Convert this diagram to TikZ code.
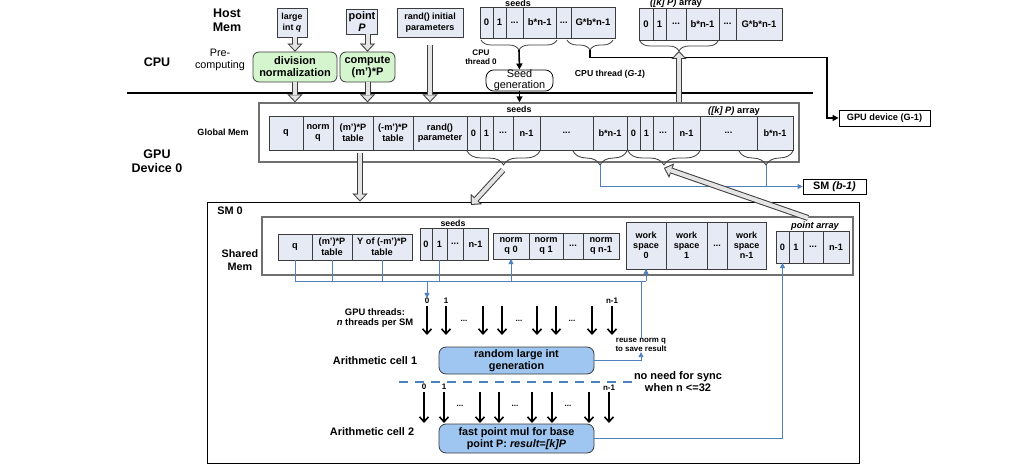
\documentclass[tikz,border=0pt]{standalone}
\usepackage{fontspec}
\setmainfont{Liberation Sans}
\usetikzlibrary{arrows.meta,positioning,decorations.pathreplacing}
\definecolor{Line}{HTML}{3C3C3C}
\definecolor{Frame}{HTML}{707070}
\definecolor{Cell}{HTML}{E6EAF4}
\definecolor{Green}{HTML}{D4F5CE}
\definecolor{Blue}{HTML}{9EC6F0}
\definecolor{Wire}{HTML}{4F81BD}
\definecolor{Hollow}{HTML}{E4E4E4}

\begin{document}
\begin{tikzpicture}[x=1pt,y=-1pt,
 hdr/.style={font=\fontsize{12.5}{14}\selectfont\bfseries,align=center,inner sep=0pt},
 lbl/.style={font=\fontsize{9}{10.5}\selectfont\bfseries,align=center,inner sep=0pt},
 rg/.style={font=\fontsize{10.8}{12}\selectfont,align=center,inner sep=0pt},
 tl/.style={font=\fontsize{8}{9}\selectfont\bfseries,inner sep=0pt},
 cell/.style={draw=Line,fill=Cell,line width=0.8pt,inner sep=0pt,outer sep=0pt,align=center,font=\fontsize{9.2}{10.6}\selectfont\bfseries},
 tc/.style={cell,minimum height=31pt,font=\fontsize{9.5}{11}\selectfont\bfseries},
 gc/.style={cell,minimum height=34pt},
 sc/.style={cell,minimum height=26pt},
 qc/.style={cell,minimum height=32pt},
 wc/.style={cell,minimum height=47pt,font=\fontsize{9}{9.8}\selectfont\bfseries},
 grn/.style={draw=Line,fill=Green,line width=0.8pt,rounded corners=6pt,inner sep=0pt,align=center,font=\fontsize{11}{12}\selectfont\bfseries},
 alu/.style={draw=Line,fill=Blue,line width=0.8pt,rounded corners=7pt,inner sep=0pt,align=center,font=\fontsize{10.8}{12.5}\selectfont\bfseries},
 frame/.style={draw=Frame,line width=1.4pt,fill=white,inner sep=0pt},
 tag/.style={draw=black,fill=white,line width=0.8pt,inner sep=0pt,align=center,font=\fontsize{9.2}{11}\selectfont\bfseries},
 br/.style={decorate,decoration={brace,mirror,amplitude=#1},draw=Line,line width=0.8pt},
 br/.default=10pt,
 blk/.style={draw=black,line width=1.6pt,-{Triangle[length=6pt,width=6pt]}},
 thr/.style={draw=black,line width=1.6pt,-{Straight Barb[length=5pt,width=9pt]}},
 wire/.style={draw=Wire,line width=0.8pt},
 wa/.style={wire,-{Triangle[length=5pt,width=5pt]}},
 hollow/.style={draw=Line,line width=6pt,-{Triangle[length=8pt,width=15pt,line width=0.01pt]},
   postaction={draw=Hollow,line width=4pt,shorten >=1.5pt,-{Triangle[length=5.5pt,width=10.4pt,line width=0.01pt]}}}
]
\useasboundingbox (0,0) rectangle (1014,468);
% host memory and cpu
\node[hdr] (host) at (227,20) {Host\\Mem};
\node[cell,minimum width=30pt,minimum height=29pt,font=\fontsize{8.8}{10.5}\selectfont\bfseries] (intq) at (292,22.5) {large\\int \textit{q}};
\node[cell,minimum width=31pt,minimum height=25pt,font=\fontsize{10.9}{12}\selectfont\bfseries] (ptP) at (362,21.5) {point\\\textit{P}};
\node[cell,minimum width=66pt,minimum height=29pt,font=\fontsize{9}{10.5}\selectfont\bfseries] (rinit) at (430,22.5) {rand() initial\\parameters};
\node[hdr] (cpu) at (157,62) {CPU};
\node[rg] (pre) at (220,60) {Pre-\\computing};
\node[grn,minimum width=84pt,minimum height=30pt] (div) at (295,67) {division\\normalization};
\node[grn,minimum width=55pt,minimum height=30pt] (comp) at (367.5,67) {compute\\(m')*P};

% seeds made on the cpu
\node[lbl] (tseeds) at (518,3) {seeds};
\node[tc,minimum width=13pt] (t0) at (486.5,22.5) {0};
\node[tc,minimum width=13pt,right=0pt of t0] (t1) {1};
\node[tc,minimum width=17pt,right=0pt of t1] (td) {...};
\node[tc,minimum width=33.5pt,right=0pt of td] (tbn) {b*n-1};
\node[tc,minimum width=14.5pt,right=0pt of tbn] (td2) {...};
\node[tc,minimum width=44pt,right=0pt of td2] (tgbn) {G*b*n-1};
\draw[br] (481,40) -- (557,40); \coordinate (tb1) at (519,50);
\draw[br] (567,40) -- (613,40); \coordinate (tb2) at (590,50);
\node[lbl,font=\fontsize{8.1}{9}\selectfont\bfseries] (cth0) at (481,57.5) {CPU\\thread 0};
\node[draw=black,fill=white,line width=0.8pt,rounded corners=8pt,rg,font=\fontsize{10.9}{11}\selectfont,minimum width=67pt,minimum height=21pt] (seedgen) at (519.5,80.5) {Seed\\generation};
\node[lbl,font=\fontsize{8.7}{10}\selectfont\bfseries] (cthg) at (610,74) {CPU thread (\textit{G-1})};

% point array on the cpu
\node[lbl,font=\fontsize{9.3}{10}\selectfont\bfseries] (tkp) at (676,3) {\textit{([k] P)} array};
\node[tc,minimum width=14pt,minimum height=32pt] (k0) at (646,24) {0};
\node[tc,minimum width=13pt,minimum height=32pt,right=0pt of k0] (k1) {1};
\node[tc,minimum width=20pt,minimum height=32pt,right=0pt of k1] (kd) {...};
\node[tc,minimum width=33pt,minimum height=32pt,right=0pt of kd] (kbn) {b*n-1};
\node[tc,minimum width=17pt,minimum height=32pt,right=0pt of kbn] (kd2) {...};
\node[tc,minimum width=46pt,minimum height=32pt,right=0pt of kd2] (kgbn) {G*b*n-1};
\draw[br] (640,41) -- (718,41); \coordinate (tk) at (679,51);
\node[tag,minimum width=91pt,minimum height=16pt] (gpug) at (884.5,118) {GPU device (G-1)};
\coordinate (turn) at (827,57.5);

\draw[line width=2pt] (127,93) -- (813,93);

% gpu global memory
\node[hdr] (gpu) at (157,161.5) {GPU\\Device 0};
\node[frame,minimum width=540pt,minimum height=59pt] (gmem) at (529,132.5) {};
\node[lbl] (gml) at (223,132) {Global Mem};
\node[gc,minimum width=34pt] (gq) at (286,133) {q};
\node[gc,minimum width=30pt,right=0pt of gq] (gnq) {norm\\q};
\node[gc,minimum width=40pt,right=0pt of gnq] (gmp) {(m')*P\\table};
\node[gc,minimum width=40pt,right=0pt of gmp] (gmn) {(-m')*P\\table};
\node[gc,minimum width=54pt,right=0pt of gmn] (grand) {rand()\\parameter};
\node[gc,minimum width=13pt,right=0pt of grand] (gs0) {0};
\node[gc,minimum width=13pt,right=0pt of gs0] (gs1) {1};
\node[gc,minimum width=20pt,right=0pt of gs1] (gsd) {...};
\node[gc,minimum width=27pt,right=0pt of gsd] (gsn) {n-1};
\node[gc,minimum width=53pt,right=0pt of gsn] (gsd2) {...};
\node[gc,minimum width=34pt,right=0pt of gsd2] (gsbn) {b*n-1};
\node[gc,minimum width=13pt,right=0pt of gsbn] (gk0) {0};
\node[gc,minimum width=13pt,right=0pt of gk0] (gk1) {1};
\node[gc,minimum width=20pt,right=0pt of gk1] (gkd) {...};
\node[gc,minimum width=27pt,right=0pt of gkd] (gkn) {n-1};
\node[gc,minimum width=57pt,right=0pt of gkn] (gkd2) {...};
\node[gc,minimum width=36pt,right=0pt of gkd2] (gkbn) {b*n-1};
\node[lbl,font=\fontsize{8.8}{10}\selectfont\bfseries] (gseeds) at (519,109) {seeds};
\node[lbl,font=\fontsize{9.3}{10}\selectfont\bfseries] (gkp) at (734,111) {\textit{([k] P)} array};
\draw[br=14pt] (467,151) -- (540,151); \coordinate (gb1) at (503.5,165);
\draw[br=14pt] (573,151) -- (627,151); \coordinate (gb2) at (600,165);
\draw[br=14pt] (628,151) -- (700,151); \coordinate (gb3) at (664,165);
\draw[br=14pt] (739,151) -- (793,151); \coordinate (gb4) at (766,165);
\node[tag,font=\fontsize{10.8}{12}\selectfont\bfseries,minimum width=63pt,minimum height=15pt] (smb) at (834.5,186.5) {SM \textit{(b-1)}};

% sm 0 and shared memory
\node[draw=black,line width=1pt,minimum width=652pt,minimum height=261pt,inner sep=0pt] (sm0) at (533,332.5) {};
\node[hdr,font=\fontsize{10.9}{12}\selectfont\bfseries] (sm0l) at (230,211) {SM 0};
\node[frame,minimum width=591pt,minimum height=58pt] (shm) at (557.5,246) {};
\node[hdr,font=\fontsize{10.8}{12.5}\selectfont\bfseries] (shml) at (240,260) {Shared\\Mem};
\node[sc,minimum width=34pt] (sq) at (295,247) {q};
\node[sc,minimum width=40pt,right=0pt of sq] (smp) {(m')*P\\table};
\node[sc,minimum width=60pt,right=0pt of smp] (smn) {Y of (-m')*P\\table};
\node[lbl,font=\fontsize{8.8}{10}\selectfont\bfseries] (sseeds) at (453,223) {seeds};
\node[qc,minimum width=12pt] (ss0) at (426,244) {0};
\node[qc,minimum width=15pt,right=0pt of ss0] (ss1) {1};
\node[qc,minimum width=16pt,right=0pt of ss1] (ssd) {...};
\node[qc,minimum width=25pt,right=0pt of ssd] (ssn) {n-1};
\node[sc,minimum width=36pt] (nq0) at (511,246) {norm\\q 0};
\node[sc,minimum width=34pt,right=0pt of nq0] (nq1) {norm\\q 1};
\node[sc,minimum width=20pt,right=0pt of nq1] (nqd) {...};
\node[sc,minimum width=36pt,right=0pt of nqd] (nqn) {norm\\q n-1};
\node[wc,minimum width=40pt] (ws0) at (646,245.5) {work\\space\\0};
\node[wc,minimum width=41pt,right=0pt of ws0] (ws1) {work\\space\\1};
\node[wc,minimum width=20pt,right=0pt of ws1] (wsd) {...};
\node[wc,minimum width=39pt,right=0pt of wsd] (wsn) {work\\space\\n-1};
\node[lbl,font=\fontsize{9.2}{10}\selectfont\bfseries\itshape] (pal) at (815,226) {point array};
\node[qc,minimum width=13pt] (pa0) at (782.5,247) {0};
\node[qc,minimum width=14pt,right=0pt of pa0] (pa1) {1};
\node[qc,minimum width=20pt,right=0pt of pa1] (pad) {...};
\node[qc,minimum width=26pt,right=0pt of pad] (pan) {n-1};

% threads and arithmetic cells
\node[lbl,font=\fontsize{9.4}{10.5}\selectfont\bfseries] (gthr) at (375,318) {GPU threads:\\\textit{n} threads per SM};
\node[tl] (th0) at (427,301) {0}; \node[tl] (th1) at (446,301) {1}; \node[tl] (thn) at (612,301) {n-1};
\node[tl] at (464,321) {...}; \node[tl] at (519,321) {...}; \node[tl] at (572,321) {...};
\node[hdr,font=\fontsize{10.9}{12}\selectfont\bfseries] (ac1) at (375,361) {Arithmetic cell 1};
\node[alu,minimum width=155pt,minimum height=27pt] (rnd) at (516.5,360.5) {random large int\\generation};
\node[lbl,font=\fontsize{7.9}{9.5}\selectfont\bfseries] (reuse) at (641,345) {reuse norm q\\to save result};
\node[lbl,font=\fontsize{11}{11.5}\selectfont\bfseries] (sync) at (678,381.5) {no need for sync\\when n <=32};
\node[tl] (tr0) at (424,387) {0}; \node[tl] (tr1) at (444,387) {1}; \node[tl] (trn) at (609,388) {n-1};
\node[tl] at (460,406) {...}; \node[tl] at (515,406) {...}; \node[tl] at (568,406) {...};
\node[hdr,font=\fontsize{10.9}{12}\selectfont\bfseries] (ac2) at (372,432) {Arithmetic cell 2};
\node[alu,minimum width=155pt,minimum height=29pt] (fpm) at (516.5,438.5) {fast point mul for base\\point P: \textit{result=[k]P}};
\draw[draw=Wire,line width=1.6pt,dash pattern=on 9pt off 7pt] (399,382) -- (632,382);

\draw[thr] (427,306) -- (427,335); \draw[thr] (446,306) -- (446,335); \draw[thr] (483,306) -- (483,335); \draw[thr] (502,306) -- (502,335);
\draw[thr] (537,306) -- (537,335); \draw[thr] (556,306) -- (556,335); \draw[thr] (592,306) -- (592,335); \draw[thr] (612,306) -- (612,335);
\draw[thr] (424,392) -- (424,423); \draw[thr] (444,392) -- (444,423); \draw[thr] (480,392) -- (480,423); \draw[thr] (499,392) -- (499,423);
\draw[thr] (532,392) -- (532,423); \draw[thr] (552,392) -- (552,423); \draw[thr] (589,392) -- (589,423); \draw[thr] (609,392) -- (609,423);

% connectors
\coordinate (bus) at (646,281);
\draw[wire] (sq.south) |- (bus); \draw[wire] (smp.south) -- (smp.south |- bus); \draw[wire] (smn.south) -- (smn.south |- bus); \draw[wire] (ss1.south) -- (ss1.south |- bus);
\draw[wa] (nq0.south |- bus) -- (nq0.south); \draw[wa] (bus) -- (ws0.south); \draw[wa] (th0.north |- bus) -- (th0.north);
\draw[wa] (rnd.east) -| (reuse.south); \draw[wire] (reuse.north) -- (reuse.north |- bus);
\draw[wa] (fpm.east) -| (pa0.south);
\draw[wa] (gb2) |- (smb.west); \draw[wire] (gb4) -- (gb4 |- smb.west);
\draw[blk] (tb1) -- (seedgen.north); \draw[blk] (seedgen.south) -- (seedgen.south |- gmem.north);
\draw[blk] (tb2) |- (turn) |- (gpug.west);

\coordinate (gm2sm) at (360,153); \coordinate (sm0in) at (471,205); \coordinate (gb1t) at (503,170); \coordinate (patail) at (808,218); \coordinate (gb3h) at (664,168);
\draw[hollow] (div.north |- intq.south) -- (div.north); \draw[hollow] (comp.north |- ptP.south) -- (comp.north);
\draw[hollow] (div.south) -- (div.south |- gmem.north); \draw[hollow] (comp.south) -- (comp.south |- gmem.north);
\draw[hollow] ([yshift=-8pt]rinit.south) -- (rinit.south |- gmem.north);
\draw[hollow] (tk |- gmem.north) -- (tk);
\draw[hollow] (gm2sm) -- (gm2sm |- sm0.north); \draw[hollow] (gb1t) -- (sm0in); \draw[hollow] (patail) -- (gb3h);
\end{tikzpicture}
\end{document}
